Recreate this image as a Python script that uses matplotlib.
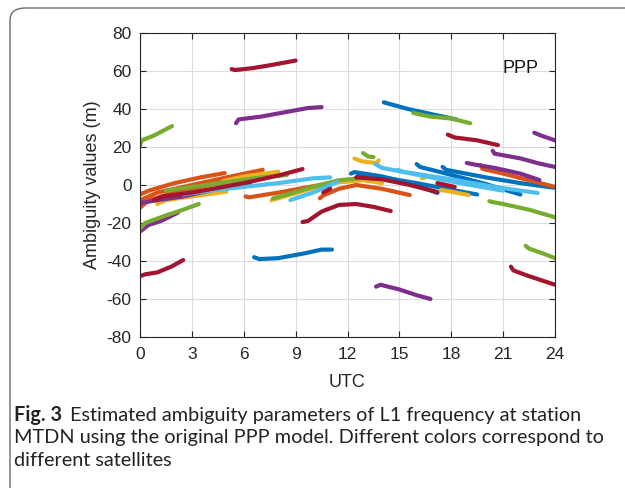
import matplotlib
matplotlib.use("Agg")
import matplotlib.pyplot as plt
from matplotlib.patches import FancyBboxPatch

# MATLAB default colour order
colors = {
    "blue": "#0072BD", "orange": "#D95319", "yellow": "#EDB120",
    "purple": "#7E2F8E", "green": "#77AC30", "cyan": "#4DBEEE",
    "red": "#A2142F",
}

# Each arc: (UTC hours, ambiguity values in m)
blue_arcs = [
    ([14.1, 14.3, 15.5, 17.0, 18.3], [43.5, 43.0, 40.0, 37.0, 34.5]),
    ([6.6, 6.9, 8.0, 9.5, 10.5, 11.1], [-38.0, -39.0, -38.5, -36.0, -34.0, -34.0]),
    ([12.2, 12.4, 14.0, 15.6, 17.2], [6.0, 6.8, 4.5, 1.0, -4.2]),
    ([16.0, 16.2, 17.5, 20.0, 22.0], [11.0, 9.5, 6.5, 0.5, -5.0]),
    ([17.5, 17.7, 20.0, 22.0, 24.0], [9.5, 8.0, 4.0, 1.0, -1.5]),
    ([12.6, 14.0, 16.0, 18.0, 19.5], [5.0, 4.0, 1.0, -2.5, -5.0]),
]
cyan_arcs = [
    ([2.5, 4.0, 6.0, 8.0, 10.0, 11.0], [-5.0, -3.0, -1.0, 1.0, 3.5, 4.0]),
    ([8.7, 9.0, 10.0, 11.4], [-8.0, -7.0, -4.0, 1.5]),
    ([13.6, 14.0, 16.0, 18.5, 21.0], [11.0, 9.0, 5.5, 1.0, -3.0]),
    ([14.9, 15.2, 18.0, 20.5, 23.0], [8.0, 7.0, 3.0, -1.0, -4.2]),
]
orange_arcs = [
    ([0.0, 0.5, 2.0, 3.5, 4.9], [-5.0, -3.0, 1.0, 4.0, 6.3]),
    ([0.0, 1.0, 3.0, 5.0, 7.1], [-8.0, -4.0, 0.0, 4.0, 8.0]),
    ([0.0, 0.5, 2.0, 4.0, 6.0], [-12.0, -8.0, -4.0, 0.0, 3.0]),
    ([6.1, 6.3, 8.0, 9.5, 11.0], [-6.0, -6.5, -4.0, -1.5, 1.0]),
    ([10.4, 10.6, 11.5, 12.5, 14.0, 15.6], [-7.0, -5.5, -2.0, 0.0, -2.0, -5.3]),
    ([19.7, 19.8, 21.0, 22.5, 24.0], [10.5, 8.5, 6.0, 2.5, -1.0]),
]
yellow_arcs = [
    ([1.0, 1.5, 3.0, 5.0], [-10.0, -8.0, -6.0, -3.5]),
    ([4.8, 6.0, 8.0], [2.0, 4.5, 7.0]),
    ([7.6, 8.0, 9.5, 11.0, 12.9, 14.0], [-8.0, -7.0, -3.0, 1.0, 2.5, 1.0]),
    ([12.4, 12.8, 13.7, 13.8], [14.0, 12.5, 11.5, 13.0]),
    ([17.4, 18.0, 19.0], [-2.6, -3.5, -5.3]),
    ([16.3, 16.5], [3.5, 4.0]),
]
green_arcs = [
    ([0.0, 0.1, 0.8, 1.85], [20.5, 23.5, 26.0, 31.0]),
    ([15.8, 16.0, 16.8, 18.0, 19.1], [38.0, 37.5, 36.0, 35.0, 32.5]),
    ([0.0, 0.3, 1.5, 2.5, 3.4], [-23.0, -20.0, -16.0, -13.0, -10.0]),
    ([20.2, 20.4, 21.0, 22.5, 24.0], [-8.5, -9.0, -10.0, -13.0, -17.0]),
    ([22.3, 22.5, 23.3, 24.0], [-32.0, -33.5, -36.0, -38.5]),
    ([7.7, 8.5, 10.0, 11.5, 12.9], [-7.0, -5.0, -1.0, 2.5, 3.7]),
    ([1.5, 3.0, 5.0, 7.0, 8.5], [-3.0, -1.0, 1.5, 4.0, 5.3]),
    ([12.9, 13.2, 13.5], [16.8, 15.0, 14.7]),
]
purple_arcs = [
    ([5.55, 5.7, 7.0, 8.5, 9.7, 10.5], [32.5, 34.5, 36.0, 38.5, 40.5, 41.0]),
    ([20.4, 20.5, 22.0, 23.0, 24.0], [18.0, 16.5, 14.0, 11.5, 9.5]),
    ([22.8, 23.2, 24.0], [27.5, 26.0, 23.5]),
    ([13.65, 13.9, 15.0, 16.0, 16.8], [-53.5, -52.5, -55.0, -58.0, -60.0]),
    ([0.0, 0.5, 1.2, 2.2], [-24.5, -21.0, -19.0, -14.5]),
    ([0.0, 1.0, 2.5, 4.5, 6.4], [-9.5, -8.0, -6.0, -2.0, 0.0]),
    ([18.9, 19.2, 20.5, 22.0, 23.1], [11.6, 11.0, 9.0, 6.0, 2.6]),
]
red_arcs = [
    ([5.3, 5.5, 6.5, 7.5, 9.0], [61.0, 60.5, 61.5, 63.0, 65.5]),
    ([17.8, 18.2, 19.5, 20.7], [26.5, 25.0, 23.5, 21.0]),
    ([9.4, 9.7, 10.5, 11.5, 12.5, 13.5, 14.5], [-19.5, -19.0, -14.0, -10.5, -10.0, -11.5, -13.7]),
    ([0.0, 0.3, 1.0, 1.8, 2.5], [-48.0, -47.0, -46.0, -43.0, -39.5]),
    ([21.45, 21.6, 22.5, 24.0], [-43.0, -45.0, -48.0, -52.5]),
    ([0.8, 1.3, 3.0, 6.0, 8.0, 9.4], [-8.0, -6.0, -4.0, 1.0, 5.0, 8.4]),
    ([10.6, 11.0], [-4.0, -2.0]),
    ([12.5, 14.0, 15.6, 17.2], [4.0, 3.0, 0.0, -3.7]),
    ([17.2, 18.2], [1.0, -1.0]),
]

x_ticks = [0, 3, 6, 9, 12, 15, 18, 21, 24]
y_ticks = [-80, -60, -40, -20, 0, 20, 40, 60, 80]

caption_bold = "Fig. 3"
caption_lines = [
    "Estimated ambiguity parameters of L1 frequency at station",
    "MTDN using the original PPP model. Different colors correspond to",
    "different satellites",
]

plt.rcParams["font.family"] = ["Liberation Sans", "DejaVu Sans"]
plt.rcParams["axes.unicode_minus"] = False
fig = plt.figure(figsize=(6.25, 4.88), dpi=100)

# outer rounded frame
frame = FancyBboxPatch((10 / 625, -0.05), 1.2, 1 - 8 / 488 + 0.05,
                       boxstyle="round,pad=0,rounding_size=0.025",
                       transform=fig.transFigure, facecolor="none",
                       edgecolor="#6b6b6b", linewidth=1.0, clip_on=False)
fig.patches.append(frame)

ax = fig.add_axes([140 / 625, 1 - 337 / 488, 415 / 625, 304 / 488])

groups = [
    ("blue", blue_arcs), ("orange", orange_arcs), ("yellow", yellow_arcs),
    ("purple", purple_arcs), ("green", green_arcs), ("cyan", cyan_arcs),
    ("red", red_arcs),
]
for name, arcs in groups:
    for t, v in arcs:
        ax.plot(t, v, color=colors[name], lw=3.0, solid_capstyle="round",
                solid_joinstyle="round")

ax.set_xlim(0, 24)
ax.set_ylim(-80, 80)
ax.set_xticks(x_ticks)
ax.set_yticks(y_ticks)
ax.tick_params(direction="in", length=4, width=0.8, top=True, right=True,
               labelsize=12.5, colors="#262626", pad=7)
ax.tick_params(axis="y", pad=6)
ax.grid(True, color="#dcdcdc", lw=0.8)
ax.set_axisbelow(True)
for s in ax.spines.values():
    s.set_color("#262626")
    s.set_linewidth(0.8)
ax.set_xlabel("UTC", fontsize=13, color="#262626", labelpad=9)
ax.set_ylabel("Ambiguity values (m)", fontsize=13, color="#262626", labelpad=4)
ax.text(22.0, 61.5, "PPP", fontsize=13, ha="center", va="center", color="#111111")

# caption
cap_font = ["Lato", "DejaVu Sans"]
renderer = fig.canvas.get_renderer()
probe = fig.text(0, 0, caption_lines[1], fontsize=10, family=cap_font)
w10 = probe.get_window_extent(renderer).width
probe.remove()
cap_size = 10 * 590 / w10

x0 = 14 / 625
ys = [1 - 415 / 488, 1 - 438 / 488, 1 - 461 / 488]
b = fig.text(x0, ys[0], caption_bold, fontsize=cap_size, va="center",
             family=cap_font, weight="bold", color="#222222")
bw = b.get_window_extent(renderer).width
fig.text(x0 + (bw + 8) / 625, ys[0], caption_lines[0], fontsize=cap_size,
         va="center", family=cap_font, color="#222222")
for line, y in zip(caption_lines[1:], ys[1:]):
    fig.text(x0, y, line, fontsize=cap_size, va="center", family=cap_font,
             color="#222222")

fig.savefig("out.png", dpi=100)
